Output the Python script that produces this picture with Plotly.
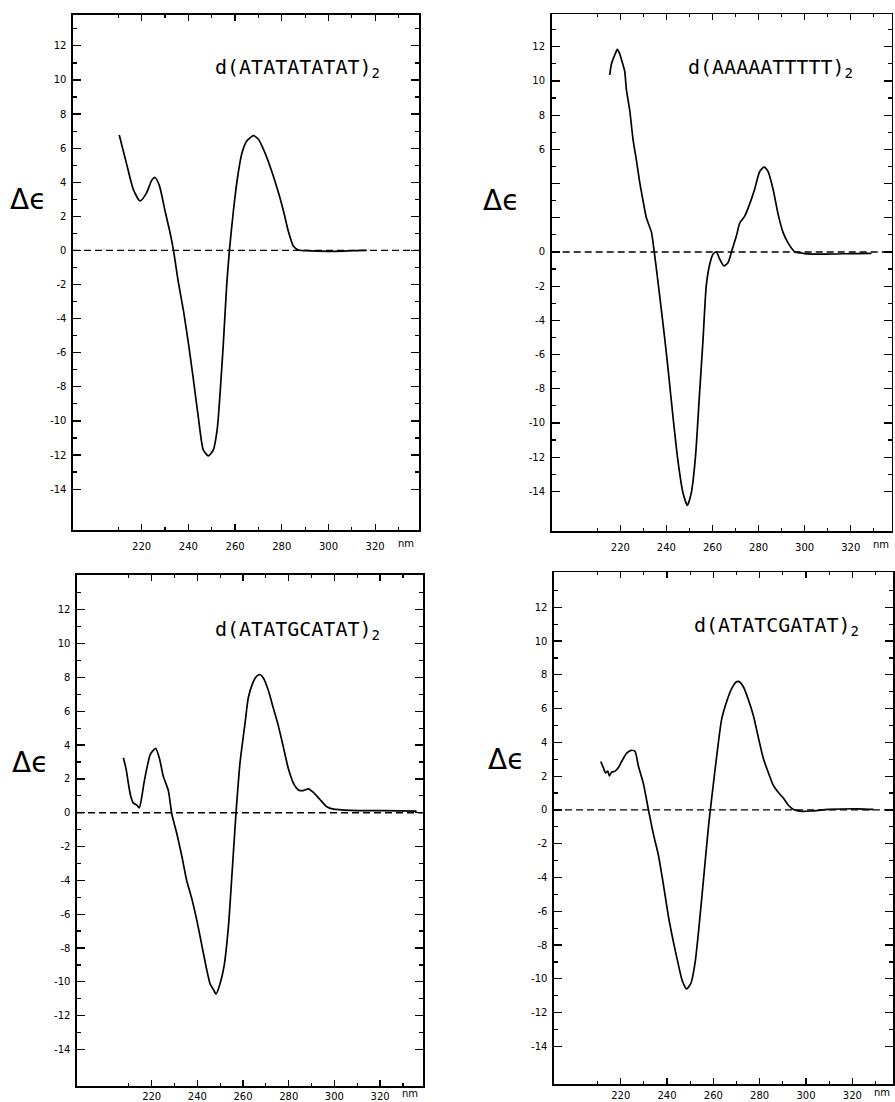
import plotly.graph_objects as go

# ---------------- data ----------------
wl_atat = [210.4, 213.6, 216.4, 219.3, 222.1, 224.3, 225.7, 227.6, 230.0, 232.1, 233.6, 235.7,
           237.9, 240.0, 242.1, 244.3, 246.4, 248.6, 250.7, 252.4, 253.6, 255.0, 256.4, 257.6,
           259.3, 261.0, 262.9, 265.0, 267.9, 270.0, 272.9, 275.7, 278.6, 280.7, 282.9, 285.0,
           287.1, 292.0, 300.0, 308.0, 316.4]
de_atat = [6.77, 5.05, 3.59, 2.90, 3.38, 4.11, 4.28, 3.80, 2.33, 1.08, 0.03, -1.85,
           -3.53, -5.42, -7.51, -9.82, -11.70, -12.05, -11.70, -10.44, -8.35, -5.42, -2.07, 0.03,
           2.33, 4.22, 5.69, 6.42, 6.73, 6.52, 5.69, 4.64, 3.38, 2.33, 1.08, 0.24,
           0.03, -0.02, -0.05, -0.03, 0.0]

wl_a5t5 = [215.4, 216.1, 217.5, 218.7, 219.7, 220.4, 221.9, 222.6, 224.1, 225.5, 227.0, 228.4,
           229.8, 231.3, 233.5, 234.6, 235.6, 237.1, 239.3, 241.0, 242.9, 245.0, 247.2, 249.1,
           250.8, 252.6, 254.4, 255.9, 257.3, 258.8, 260.2, 261.7, 263.1, 265.0, 266.8, 268.5,
           270.4, 271.8, 274.0, 276.2, 278.3, 280.5, 282.4, 284.1, 286.3, 288.5, 290.6, 292.8,
           295.7, 300.0, 307.3, 321.8, 329.0]
de_a5t5 = [10.35, 10.98, 11.50, 11.85, 11.60, 11.29, 10.56, 9.52, 8.26, 6.59, 5.34, 4.08,
           3.04, 2.00, 1.16, 0.12, -0.93, -2.60, -5.10, -7.20, -9.70, -12.20, -14.09, -14.82,
           -14.09, -12.00, -8.24, -5.11, -1.97, -0.72, -0.13, 0.01, -0.41, -0.82, -0.61, 0.12,
           0.95, 1.68, 2.10, 2.83, 3.67, 4.71, 4.96, 4.71, 3.67, 2.20, 1.16, 0.53,
           0.01, -0.09, -0.13, -0.09, -0.08]

wl_gc = [207.6, 208.8, 209.8, 210.8, 212.0, 213.4, 214.6, 215.6, 216.6, 217.8, 219.3, 220.4,
         221.8, 223.4, 225.1, 227.3, 228.8, 231.0, 233.1, 235.3, 237.5, 239.7, 241.9, 244.1,
         245.6, 247.0, 248.2, 249.9, 251.7, 253.6, 255.3, 256.9, 258.7, 260.9, 262.3, 264.2,
         266.0, 267.5, 268.9, 271.1, 273.3, 275.5, 277.7, 279.9, 282.1, 284.2, 286.4, 288.6,
         290.8, 293.7, 296.7, 299.6, 306.9, 321.5, 336.0]
de_gc = [3.25, 2.58, 1.73, 0.99, 0.57, 0.46, 0.29, 0.88, 1.73, 2.58, 3.42, 3.64,
         3.80, 3.21, 2.15, 1.31, -0.07, -1.23, -2.50, -3.99, -5.05, -6.32, -7.80, -9.28,
         -10.13, -10.45, -10.72, -10.13, -9.07, -6.74, -3.35, -0.07, 2.99, 5.32, 6.80, 7.65,
         8.08, 8.16, 7.97, 7.23, 6.17, 5.12, 3.85, 2.58, 1.73, 1.35, 1.31, 1.41,
         1.20, 0.78, 0.35, 0.21, 0.14, 0.12, 0.10]

wl_cg = [211.4, 212.5, 213.5, 214.4, 215.1, 216.1, 217.6, 219.0, 220.4, 222.6, 224.5, 226.2,
         227.6, 229.8, 231.9, 234.1, 236.3, 238.4, 240.6, 242.7, 244.9, 246.6, 248.5, 250.4,
         252.1, 253.8, 255.7, 257.9, 259.3, 261.5, 263.6, 265.8, 267.9, 269.7, 271.1, 273.0,
         275.1, 277.3, 279.4, 281.6, 283.8, 285.9, 288.1, 290.2, 292.4, 294.6, 298.2, 302.5,
         309.7, 322.6, 329.1]
de_cg = [2.87, 2.51, 2.19, 2.30, 2.02, 2.24, 2.30, 2.51, 2.87, 3.36, 3.53, 3.46,
         2.62, 1.56, 0.07, -1.42, -2.69, -4.39, -6.30, -7.78, -9.16, -10.12, -10.59, -10.23,
         -9.06, -6.94, -4.18, -0.99, 0.71, 3.25, 5.38, 6.44, 7.18, 7.56, 7.60, 7.28,
         6.54, 5.58, 4.31, 3.04, 2.19, 1.45, 1.03, 0.71, 0.28, 0.03, -0.08, -0.06,
         0.03, 0.07, 0.03]

titles = ["d(ATATATATAT)<sub>2</sub>", "d(AAAAATTTTT)<sub>2</sub>",
          "d(ATATGCATAT)<sub>2</sub>", "d(ATATCGATAT)<sub>2</sub>"]

x_major = [220, 240, 260, 280, 300, 320]
x_minor = [210, 230, 250, 270, 290, 310, 330]
y_major = [-14, -12, -10, -8, -6, -4, -2, 0, 2, 4, 6, 8, 10, 12]
y_minor = [-13, -11, -9, -7, -5, -3, -1, 1, 3, 5, 7, 9, 11, 13]
y_labels_full = [str(v) for v in y_major]
y_labels_a5t5 = [" " if v in (2, 4) else str(v) for v in y_major]
ylabel = "\u0394\u03f5"

# ---------------- layout geometry ----------------
W, H = 895, 1102


def px_x(p):
    return p / W


def px_y(p):
    return 1 - p / H


panels = [
    dict(wl=wl_atat, de=de_atat, xd=(73, 419.3), yd=(15, 530.4), xr=(190.6, 338.9),
         yr=(-16.42, 13.81), title=titles[0], tx=250.6, ty=10.7, lx=28, yt=y_labels_full,
         xso=6),
    dict(wl=wl_a5t5, de=de_a5t5, xd=(551.7, 891.7), yd=(14.3, 531.4), xr=(190.2, 337.8),
         yr=(-16.34, 13.9), title=titles[1], tx=248.7, ty=10.76, lx=500.5, yt=y_labels_a5t5,
         xso=6),
    dict(wl=wl_gc, de=de_gc, xd=(77, 423), yd=(574.8, 1086.0), xr=(187.3, 338.8),
         yr=(-16.16, 14.07), title=titles[2], tx=246.9, ty=10.83, lx=29.5, yt=y_labels_full,
         xso=0),
    dict(wl=wl_cg, de=de_cg, xd=(554, 893.3), yd=(572.3, 1084.1), xr=(191.2, 337.7),
         yr=(-16.23, 14.07), title=titles[3], tx=250.7, ty=10.87, lx=505.5, yt=y_labels_full,
         xso=1),
]

fig = go.Figure()
tick_font = dict(family="DejaVu Sans", size=10, color="black")
annotations = []
shapes = []

for i, p in enumerate(panels, start=1):
    xa = "x" if i == 1 else f"x{i}"
    ya = "y" if i == 1 else f"y{i}"
    fig.add_trace(go.Scatter(x=p["wl"], y=p["de"], mode="lines", xaxis=xa, yaxis=ya,
                             line=dict(color="black", width=1.7, shape="spline", smoothing=0.6),
                             showlegend=False, hoverinfo="skip"))
    xkey = "xaxis" if i == 1 else f"xaxis{i}"
    ykey = "yaxis" if i == 1 else f"yaxis{i}"
    fig.layout[xkey] = dict(
        domain=[px_x(p["xd"][0]), px_x(p["xd"][1])], range=list(p["xr"]), anchor=ya,
        showline=True, linecolor="black", linewidth=1.6, mirror="allticks",
        ticks="inside", ticklen=6, tickwidth=1.2, tickcolor="black",
        tickmode="array", tickvals=x_major, ticktext=[str(v) for v in x_major],
        tickfont=tick_font, ticklabelstandoff=p["xso"],
        minor=dict(tickmode="array", tickvals=x_minor, ticks="inside", ticklen=3,
                   tickwidth=1.2, tickcolor="black", showgrid=False),
        showgrid=False, zeroline=False, automargin=False, fixedrange=True)
    fig.layout[ykey] = dict(
        domain=[px_y(p["yd"][1]), px_y(p["yd"][0])], range=list(p["yr"]), anchor=xa,
        showline=True, linecolor="black", linewidth=1.6, mirror="allticks",
        ticks="inside", ticklen=8, tickwidth=1.2, tickcolor="black",
        tickmode="array", tickvals=y_major, ticktext=p["yt"],
        tickfont=tick_font, ticklabelstandoff=3,
        minor=dict(tickmode="array", tickvals=y_minor, ticks="inside", ticklen=4,
                   tickwidth=1.2, tickcolor="black", showgrid=False),
        showgrid=False, zeroline=False, automargin=False, fixedrange=True)

    # dashed zero line
    shapes.append(dict(type="line", xref=f"{xa} domain", yref=ya, x0=0, x1=1, y0=0, y1=0,
                       line=dict(color="black", width=1.3, dash="7px,4px")))
    # sequence label
    annotations.append(dict(text=p["title"], xref=xa, yref=ya, x=p["tx"], y=p["ty"],
                            xanchor="left", yanchor="middle", showarrow=False,
                            font=dict(family="DejaVu Sans Mono", size=20, color="black")))
    # delta epsilon label
    annotations.append(dict(text=ylabel, xref="paper", yref=ya, x=px_x(p["lx"]), y=3,
                            xanchor="center", yanchor="middle", showarrow=False,
                            font=dict(family="DejaVu Sans", size=28, color="black")))
    # nm unit
    annotations.append(dict(text="nm", xref=xa, yref=f"{ya} domain", x=333, y=0,
                            xanchor="center", yanchor="top", yshift=-p["xso"], showarrow=False,
                            font=tick_font))

fig.update_layout(width=W, height=H, margin=dict(l=0, r=0, t=0, b=0),
                  paper_bgcolor="white", plot_bgcolor="white",
                  annotations=annotations, shapes=shapes, template="none",
                  showlegend=False)

fig.write_html("out.html", config={"displayModeBar": False, "staticPlot": True},
               post_script="document.body.style.margin='0';document.body.style.padding='0';"
                           "document.body.style.overflow='hidden';")
